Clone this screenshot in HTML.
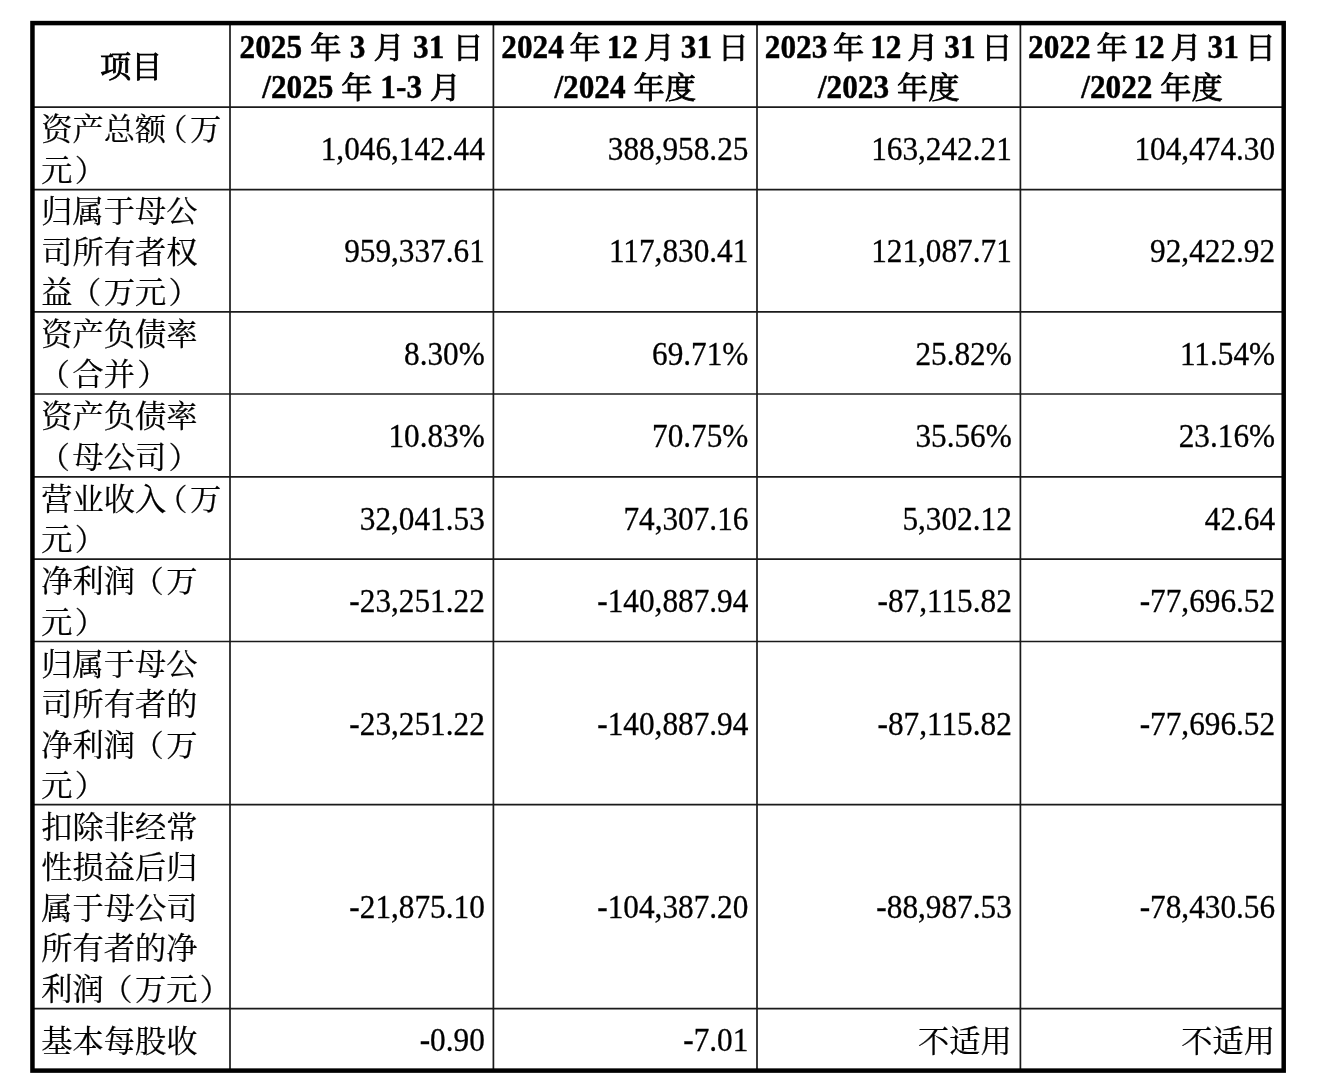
<!DOCTYPE html>
<html lang="zh-CN">
<head>
<meta charset="utf-8">
<title>主要财务数据</title>
<style>
html,body{margin:0;padding:0;background:#fff;}
body{width:1324px;height:1090px;position:relative;overflow:hidden;font-family:"Liberation Serif","Noto Serif CJK SC",serif;font-size:31.25px;color:#000;}
svg.grid{position:absolute;left:0;top:0;}
.tbl{position:absolute;border-collapse:collapse;border-spacing:0;table-layout:fixed;font-size:inherit;}
.tbl th,.tbl td{padding:0;margin:0;border:0;font-weight:inherit;vertical-align:top;overflow:visible;}
.c{position:relative;display:flex;flex-direction:column;justify-content:center;box-sizing:border-box;}
.l{height:40.5px;line-height:40.5px;white-space:nowrap;}
.k{font-family:"Noto Serif CJK SC","Liberation Serif",serif;}
.c0{text-align:left;padding-left:8.85px;}
.num{text-align:right;padding-right:8.6px;}
.hd{text-align:center;font-weight:bold;}
.po{position:relative;left:-2.6px;}
.pc{position:relative;left:2.3px;}
.px{display:inline-block;width:23.7px;}
.px i{font-style:normal;position:relative;left:-10.1px;}
.num .l{transform:scaleY(1.06);transform-origin:50% 75%;-webkit-text-stroke:0.3px #000;}
.k .l{transform:scaleY(0.967);transform-origin:50% 20%;-webkit-text-stroke:0.25px #000;}
.hn,.hk{display:inline-block;}
.hn{transform:scaleY(1.06);transform-origin:50% 75%;-webkit-text-stroke:0.4px #000;}
.hk{font-weight:400;-webkit-text-stroke:0.85px #000;transform:scaleY(0.96);transform-origin:50% 60%;}
</style>
</head>
<body>
<svg class="grid" width="1324" height="1090" viewBox="0 0 1324 1090">
<line x1="32.45" y1="107.1" x2="1283.7" y2="107.1" stroke="#1a1a1a" stroke-width="1.7"/>
<line x1="32.45" y1="189.6" x2="1283.7" y2="189.6" stroke="#1a1a1a" stroke-width="1.7"/>
<line x1="32.45" y1="311.8" x2="1283.7" y2="311.8" stroke="#1a1a1a" stroke-width="1.7"/>
<line x1="32.45" y1="394.0" x2="1283.7" y2="394.0" stroke="#1a1a1a" stroke-width="1.7"/>
<line x1="32.45" y1="476.8" x2="1283.7" y2="476.8" stroke="#1a1a1a" stroke-width="1.7"/>
<line x1="32.45" y1="559.2" x2="1283.7" y2="559.2" stroke="#1a1a1a" stroke-width="1.7"/>
<line x1="32.45" y1="641.5" x2="1283.7" y2="641.5" stroke="#1a1a1a" stroke-width="1.7"/>
<line x1="32.45" y1="804.7" x2="1283.7" y2="804.7" stroke="#1a1a1a" stroke-width="1.7"/>
<line x1="32.45" y1="1008.6" x2="1283.7" y2="1008.6" stroke="#1a1a1a" stroke-width="1.7"/>
<line x1="230.0" y1="23.08" x2="230.0" y2="1070.6" stroke="#1a1a1a" stroke-width="1.7"/>
<line x1="493.4" y1="23.08" x2="493.4" y2="1070.6" stroke="#1a1a1a" stroke-width="1.7"/>
<line x1="757.0" y1="23.08" x2="757.0" y2="1070.6" stroke="#1a1a1a" stroke-width="1.7"/>
<line x1="1020.4" y1="23.08" x2="1020.4" y2="1070.6" stroke="#1a1a1a" stroke-width="1.7"/>
<rect x="32.45" y="23.08" width="1251.25" height="1047.52" fill="none" stroke="#000" stroke-width="4.5"/>
</svg>
<table class="tbl" style="left:32.45px;top:23.08px;width:1251.25px;height:1047.52px">
<colgroup><col style="width:197.55px"><col style="width:263.40px"><col style="width:263.60px"><col style="width:263.40px"><col style="width:263.30px"></colgroup>
<thead><tr style="height:84.02px">
<th><div class="c hd" style="top:1.70px;height:84.02px"><div class="l"><span class="hk">项目</span></div></div></th>
<th><div class="c hd" style="top:3.20px;height:84.02px"><div class="l"><span style="word-spacing:0.4px"><span class="hn">2025</span> <span class="hk">年</span> <span class="hn">3</span> <span class="hk">月</span> <span class="hn">31</span> <span class="hk">日</span></span></div><div class="l"><span class="hn">/2025</span> <span class="hk">年</span> <span class="hn">1-3</span> <span class="hk">月</span></div></div></th>
<th><div class="c hd" style="top:3.20px;height:84.02px"><div class="l"><span style="word-spacing:-2.0px"><span class="hn">2024</span> <span class="hk">年</span> <span class="hn">12</span> <span class="hk">月</span> <span class="hn">31</span> <span class="hk">日</span></span></div><div class="l"><span class="hn">/2024</span> <span class="hk">年度</span></div></div></th>
<th><div class="c hd" style="top:3.20px;height:84.02px"><div class="l"><span style="word-spacing:-2.0px"><span class="hn">2023</span> <span class="hk">年</span> <span class="hn">12</span> <span class="hk">月</span> <span class="hn">31</span> <span class="hk">日</span></span></div><div class="l"><span class="hn">/2023</span> <span class="hk">年度</span></div></div></th>
<th><div class="c hd" style="top:3.20px;height:84.02px"><div class="l"><span style="word-spacing:-2.0px"><span class="hn">2022</span> <span class="hk">年</span> <span class="hn">12</span> <span class="hk">月</span> <span class="hn">31</span> <span class="hk">日</span></span></div><div class="l"><span class="hn">/2022</span> <span class="hk">年度</span></div></div></th>
</tr></thead>
<tbody><tr style="height:82.50px">
<td><div class="c c0 k" style="top:0.50px;height:82.50px"><div class="l">资产总额<span class="px"><i>（</i></span>万</div><div class="l">元<span class="pc">）</span></div></div></td>
<td><div class="c num" style="top:2.00px;height:82.50px"><div class="l">1,046,142.44</div></div></td>
<td><div class="c num" style="top:2.00px;height:82.50px"><div class="l">388,958.25</div></div></td>
<td><div class="c num" style="top:2.00px;height:82.50px"><div class="l">163,242.21</div></div></td>
<td><div class="c num" style="top:2.00px;height:82.50px"><div class="l">104,474.30</div></div></td>
</tr>
<tr style="height:122.20px">
<td><div class="c c0 k" style="top:0.50px;height:122.20px"><div class="l">归属于母公</div><div class="l">司所有者权</div><div class="l">益<span class="po">（</span>万元<span class="pc">）</span></div></div></td>
<td><div class="c num" style="top:2.00px;height:122.20px"><div class="l">959,337.61</div></div></td>
<td><div class="c num" style="top:2.00px;height:122.20px"><div class="l">117,830.41</div></div></td>
<td><div class="c num" style="top:2.00px;height:122.20px"><div class="l">121,087.71</div></div></td>
<td><div class="c num" style="top:2.00px;height:122.20px"><div class="l">92,422.92</div></div></td>
</tr>
<tr style="height:82.20px">
<td><div class="c c0 k" style="top:0.50px;height:82.20px"><div class="l">资产负债率</div><div class="l"><span class="po">（</span>合并<span class="pc">）</span></div></div></td>
<td><div class="c num" style="top:2.00px;height:82.20px"><div class="l">8.30%</div></div></td>
<td><div class="c num" style="top:2.00px;height:82.20px"><div class="l">69.71%</div></div></td>
<td><div class="c num" style="top:2.00px;height:82.20px"><div class="l">25.82%</div></div></td>
<td><div class="c num" style="top:2.00px;height:82.20px"><div class="l">11.54%</div></div></td>
</tr>
<tr style="height:82.80px">
<td><div class="c c0 k" style="top:0.50px;height:82.80px"><div class="l">资产负债率</div><div class="l"><span class="po">（</span>母公司<span class="pc">）</span></div></div></td>
<td><div class="c num" style="top:2.00px;height:82.80px"><div class="l">10.83%</div></div></td>
<td><div class="c num" style="top:2.00px;height:82.80px"><div class="l">70.75%</div></div></td>
<td><div class="c num" style="top:2.00px;height:82.80px"><div class="l">35.56%</div></div></td>
<td><div class="c num" style="top:2.00px;height:82.80px"><div class="l">23.16%</div></div></td>
</tr>
<tr style="height:82.40px">
<td><div class="c c0 k" style="top:0.50px;height:82.40px"><div class="l">营业收入<span class="px"><i>（</i></span>万</div><div class="l">元<span class="pc">）</span></div></div></td>
<td><div class="c num" style="top:2.00px;height:82.40px"><div class="l">32,041.53</div></div></td>
<td><div class="c num" style="top:2.00px;height:82.40px"><div class="l">74,307.16</div></div></td>
<td><div class="c num" style="top:2.00px;height:82.40px"><div class="l">5,302.12</div></div></td>
<td><div class="c num" style="top:2.00px;height:82.40px"><div class="l">42.64</div></div></td>
</tr>
<tr style="height:82.30px">
<td><div class="c c0 k" style="top:0.50px;height:82.30px"><div class="l">净利润<span class="po">（</span>万</div><div class="l">元<span class="pc">）</span></div></div></td>
<td><div class="c num" style="top:2.00px;height:82.30px"><div class="l">-23,251.22</div></div></td>
<td><div class="c num" style="top:2.00px;height:82.30px"><div class="l">-140,887.94</div></div></td>
<td><div class="c num" style="top:2.00px;height:82.30px"><div class="l">-87,115.82</div></div></td>
<td><div class="c num" style="top:2.00px;height:82.30px"><div class="l">-77,696.52</div></div></td>
</tr>
<tr style="height:163.20px">
<td><div class="c c0 k" style="top:0.50px;height:163.20px"><div class="l">归属于母公</div><div class="l">司所有者的</div><div class="l">净利润<span class="po">（</span>万</div><div class="l">元<span class="pc">）</span></div></div></td>
<td><div class="c num" style="top:2.00px;height:163.20px"><div class="l">-23,251.22</div></div></td>
<td><div class="c num" style="top:2.00px;height:163.20px"><div class="l">-140,887.94</div></div></td>
<td><div class="c num" style="top:2.00px;height:163.20px"><div class="l">-87,115.82</div></div></td>
<td><div class="c num" style="top:2.00px;height:163.20px"><div class="l">-77,696.52</div></div></td>
</tr>
<tr style="height:203.90px">
<td><div class="c c0 k" style="top:0.50px;height:203.90px"><div class="l">扣除非经常</div><div class="l">性损益后归</div><div class="l">属于母公司</div><div class="l">所有者的净</div><div class="l">利润<span class="po">（</span>万元<span class="pc">）</span></div></div></td>
<td><div class="c num" style="top:2.00px;height:203.90px"><div class="l">-21,875.10</div></div></td>
<td><div class="c num" style="top:2.00px;height:203.90px"><div class="l">-104,387.20</div></div></td>
<td><div class="c num" style="top:2.00px;height:203.90px"><div class="l">-88,987.53</div></div></td>
<td><div class="c num" style="top:2.00px;height:203.90px"><div class="l">-78,430.56</div></div></td>
</tr>
<tr style="height:62.00px">
<td><div class="c c0 k" style="top:0.50px;height:62.00px"><div class="l">基本每股收</div></div></td>
<td><div class="c num" style="top:2.00px;height:62.00px"><div class="l">-0.90</div></div></td>
<td><div class="c num" style="top:2.00px;height:62.00px"><div class="l">-7.01</div></div></td>
<td><div class="c num k" style="top:0.50px;height:62.00px"><div class="l">不适用</div></div></td>
<td><div class="c num k" style="top:0.50px;height:62.00px"><div class="l">不适用</div></div></td>
</tr></tbody>
</table>
</body>
</html>
